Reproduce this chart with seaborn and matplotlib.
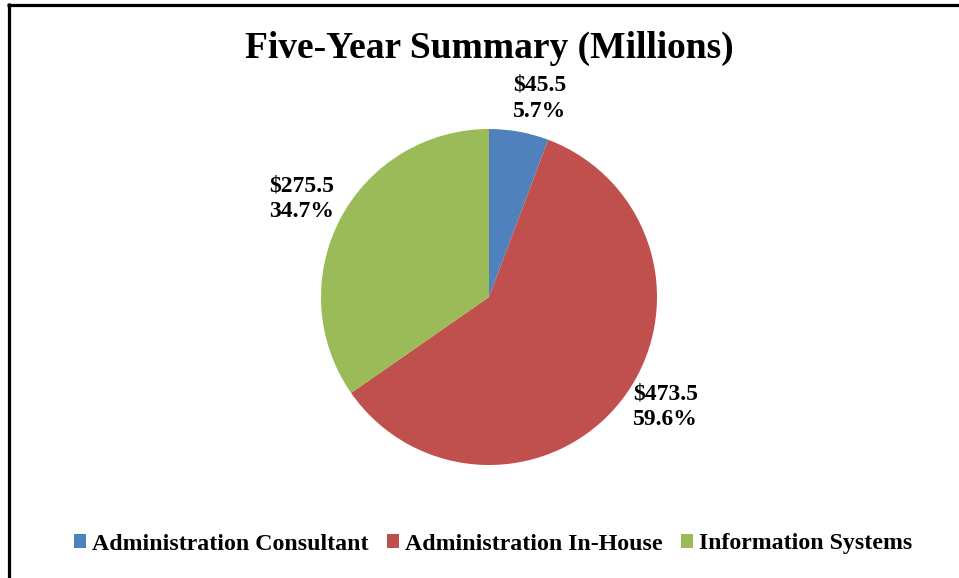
import numpy as np
import matplotlib
matplotlib.use("Agg")
import matplotlib.pyplot as plt
from matplotlib.lines import Line2D
from matplotlib.patches import Patch
import seaborn as sns

# Five-year totals (millions of dollars)
categories = ["Administration Consultant", "Administration In-House", "Information Systems"]
values = [45.5, 473.5, 275.5]
colors = ["#4F81BD", "#C0504D", "#9BBB59"]

sns.set_theme(style="white")
plt.rcParams["font.family"] = ["Liberation Serif", "DejaVu Serif"]
plt.rcParams["font.weight"] = "bold"
plt.rcParams["text.color"] = "black"

W, H = 959, 578
fig = plt.figure(figsize=(W / 100, H / 100), dpi=100)
fig.patch.set_facecolor("white")

# square axes holding the pie, radius 1 in data units
cx, cy, R = 489, 297, 168
half = 1.5 * R
ax = fig.add_axes([(cx - half) / W, (H - cy - half) / H, 2 * half / W, 2 * half / H])

palette = sns.color_palette(colors)
wedges, _ = ax.pie(values, colors=palette, startangle=90, counterclock=False,
                   radius=1.0, wedgeprops=dict(linewidth=0))
ax.set_xlim(-1.5, 1.5)
ax.set_ylim(-1.5, 1.5)
ax.set_aspect("equal")
ax.axis("off")

total = sum(values)
label_r = [1.22, 1.24, 1.26]
label_shift = [-4, 6, 0]  # angular nudge (degrees) for each label
for w, v, r, s in zip(wedges, values, label_r, label_shift):
    mid = np.deg2rad((w.theta1 + w.theta2) / 2 + s)
    ax.text(r * np.cos(mid), r * np.sin(mid), f"${v:.1f}\n{v / total * 100:.1f}%",
            ha="center", va="center", fontsize=17, fontweight="bold",
            linespacing=1.3, color="black")

fig.text(cx / W, 1 - 48 / H, "Five-Year Summary (Millions)", ha="center", va="center",
         fontsize=27, fontweight="bold", color="black")

handles = [Patch(facecolor=c, edgecolor="none") for c in colors]
fig.legend(handles, categories, loc="center", bbox_to_anchor=(493 / W, 1 - 544 / H),
           ncol=3, frameon=False, handlelength=0.5, handleheight=0.5,
           handletextpad=0.25, columnspacing=0.78, labelcolor="black",
           prop=dict(family="Liberation Serif", weight="bold", size=17.2))

# chart frame: top and left edges
fig.add_artist(Line2D([7 / W, 1.0], [1 - 4.5 / H, 1 - 4.5 / H], transform=fig.transFigure,
                      color="black", linewidth=2.3, solid_capstyle="butt"))
fig.add_artist(Line2D([8.5 / W, 8.5 / W], [1 - 3 / H, 0.0], transform=fig.transFigure,
                      color="black", linewidth=2.3, solid_capstyle="butt"))

fig.savefig("out.png", dpi=100, facecolor="white")
